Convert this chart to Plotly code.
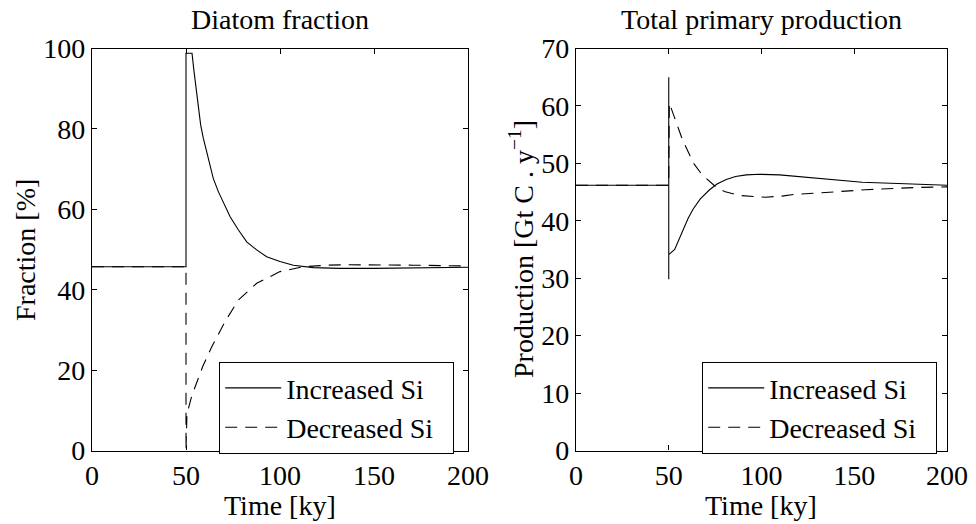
import plotly.graph_objects as go

# ---------------- data ----------------
# Left panel: diatom fraction [%]
frac_inc_t = [0, 50, 50, 53.2, 54.3, 55.3, 56.5, 57.8, 59.2, 61.0, 62.8, 64.5, 67.2, 69.9,
              73.4, 77.8, 82.3, 87.6, 92.9, 100, 107.1, 117.7, 131.9, 150, 170, 200]
frac_inc_v = [45.7, 45.7, 98.8, 98.8, 94.2, 90.1, 85.1, 81.0, 77.7, 74.3, 71.0, 67.7, 64.4, 61.5,
              58.2, 54.9, 51.9, 49.9, 48.2, 47.0, 46.1, 45.5, 45.3, 45.3, 45.4, 45.6]

frac_dec_t = [0, 50, 50, 50.5, 53, 56, 59, 63.7, 70.7, 77.8, 87.6, 100, 112.4, 125, 135.7, 171, 200]
frac_dec_v = [45.7, 45.7, 0, 9.0, 13.5, 17.5, 21.0, 25.8, 32.0, 37.4, 41.6, 44.5, 45.7, 46.1, 46.2, 46.1, 45.9]

# Right panel: total primary production [Gt C / y]
prod_inc_t = [0, 50, 50, 50, 50, 53.2, 55.5, 57.7, 60.4, 63.1, 67, 72, 76, 81, 86, 91.8, 98.9,
              109.7, 120.4, 127.6, 140, 154.3, 181.2, 200]
prod_inc_v = [46.2, 46.2, 65.0, 29.8, 34.1, 35.0, 36.8, 38.5, 40.4, 42.0, 43.8, 45.4, 46.4, 47.2,
              47.7, 48.0, 48.1, 48.0, 47.7, 47.5, 47.1, 46.7, 46.4, 46.2]

prod_dec_t = [0, 50, 50.3, 53.2, 57.3, 63.4, 68, 74.7, 80, 88.2, 102, 111, 118, 129, 156, 183, 200]
prod_dec_v = [46.2, 46.2, 60.5, 58.0, 54.2, 50.0, 48.0, 46.1, 45.1, 44.4, 44.1, 44.3, 44.6, 44.8,
              45.4, 45.8, 45.9]

series_names = ["Increased Si", "Decreased Si"]
x_ticks = [0, 50, 100, 150, 200]
frac_ticks = [0, 20, 40, 60, 80, 100]
prod_ticks = [0, 10, 20, 30, 40, 50, 60, 70]

# ---------------- figure ----------------
FONT = "Liberation Serif"
FS = 28
W, H = 976, 524

solid = dict(color="black", width=1.1)
dashed = dict(color="black", width=1.1, dash="12px,8px")

pad_name = lambda s: s + "&nbsp;&nbsp;"

fig = go.Figure()
fig.add_trace(go.Scatter(x=frac_inc_t, y=frac_inc_v, mode="lines", line=solid,
                         name=pad_name(series_names[0]), xaxis="x", yaxis="y", legend="legend"))
fig.add_trace(go.Scatter(x=frac_dec_t, y=frac_dec_v, mode="lines", line=dashed,
                         name=pad_name(series_names[1]), xaxis="x", yaxis="y", legend="legend"))
fig.add_trace(go.Scatter(x=prod_inc_t, y=prod_inc_v, mode="lines", line=solid,
                         name=pad_name(series_names[0]), xaxis="x2", yaxis="y2", legend="legend2"))
fig.add_trace(go.Scatter(x=prod_dec_t, y=prod_dec_v, mode="lines", line=dashed,
                         name=pad_name(series_names[1]), xaxis="x2", yaxis="y2", legend="legend2"))

def px_x(p):
    return p / W

def px_y(p):
    return (H - p) / H

ydom = [px_y(450.5), px_y(48.5)]

axis_common = dict(showline=True, linecolor="black", linewidth=1.3, mirror="ticks",
                   ticks="inside", ticklen=5, tickwidth=1, tickcolor="black",
                   showgrid=False, zeroline=False, automargin=False,
                   tickfont=dict(family=FONT, size=FS, color="black"))

legend_common = dict(xanchor="left", yanchor="top", bordercolor="black", borderwidth=1.2,
                     bgcolor="white", font=dict(family=FONT, size=FS, color="black"),
                     tracegroupgap=0, itemwidth=56)

fig.update_layout(
    template="none",
    width=W, height=H,
    margin=dict(l=0, r=0, t=0, b=0, pad=0, autoexpand=False),
    paper_bgcolor="white", plot_bgcolor="white",
    font=dict(family=FONT, size=FS, color="black"),
    xaxis=dict(domain=[px_x(92), px_x(468)], range=[0, 200], tickvals=x_ticks,
               anchor="y", **axis_common),
    yaxis=dict(domain=ydom, range=[0, 100], tickvals=frac_ticks, anchor="x", **axis_common),
    xaxis2=dict(domain=[px_x(576), px_x(947)], range=[0, 200], tickvals=x_ticks,
                anchor="y2", **axis_common),
    yaxis2=dict(domain=ydom, range=[0, 70], tickvals=prod_ticks, anchor="x2", **axis_common),
    legend=dict(x=px_x(219), y=px_y(362), **legend_common),
    legend2=dict(x=px_x(702), y=px_y(362), **legend_common),
    showlegend=True,
)

ann = [
    dict(text="Diatom fraction", x=px_x(280), y=px_y(20)),
    dict(text="Total primary production", x=px_x(761), y=px_y(20)),
    dict(text="Time [ky]", x=px_x(280), y=px_y(505)),
    dict(text="Time [ky]", x=px_x(761), y=px_y(505)),
    dict(text="Fraction [%]", x=px_x(26), y=px_y(250), textangle=-90),
    dict(text="Production [Gt C . y<sup>−1</sup>]", x=px_x(521), y=px_y(249), textangle=-90),
]
for a in ann:
    fig.add_annotation(xref="paper", yref="paper", showarrow=False,
                       xanchor="center", yanchor="middle",
                       font=dict(family=FONT, size=FS, color="black"), **a)

fig.write_html("out.html", config={"displayModeBar": False},
               post_script="document.body.style.margin='0px';document.body.style.padding='0px';")
